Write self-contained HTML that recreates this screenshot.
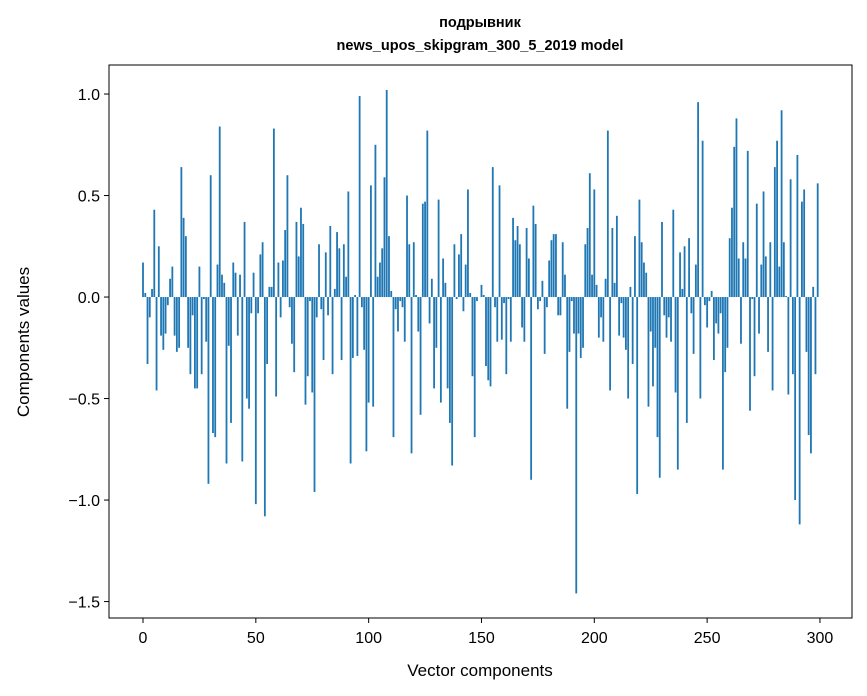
<!DOCTYPE html>
<html><head><meta charset="utf-8"><style>
body{margin:0;background:#fff;}
svg{display:block;font-family:"Liberation Sans","DejaVu Sans",sans-serif;}
</style></head><body>
<svg width="867" height="696" xmlns="http://www.w3.org/2000/svg">
<rect width="867" height="696" fill="#fff"/>
<text x="480" y="27" text-anchor="middle" font-size="14.5" font-weight="bold">подрывник</text>
<text x="480" y="50" text-anchor="middle" font-size="14.5" font-weight="bold">news_upos_skipgram_300_5_2019 model</text>
<g id="bars"></g>
<g id="axes"></g>
<rect x="109" y="65" width="743" height="553" fill="none" stroke="#000" stroke-width="1"/>
<text x="480" y="676" text-anchor="middle" font-size="17">Vector components</text>
<text transform="translate(29,342) rotate(-90)" text-anchor="middle" font-size="17">Components values</text>
</svg>
<script>
const values = [
0.17,0.02,-0.33,-0.1,0.04,0.43,-0.46,0.25,-0.19,-0.26,
-0.18,-0.04,0.09,0.15,-0.19,-0.27,-0.25,0.64,0.39,0.30,
-0.25,-0.38,-0.09,-0.45,-0.45,0.15,-0.38,-0.01,-0.22,-0.92,
0.6,-0.67,-0.69,0.16,0.84,0.11,0.07,-0.82,-0.24,-0.62,
0.17,0.12,-0.19,0.11,-0.81,0.37,-0.5,-0.55,-0.08,0.12,
-1.02,-0.08,0.21,0.27,-1.08,-0.33,0.05,0.05,0.83,-0.49,
0.17,-0.1,0.18,0.33,0.6,-0.05,-0.23,-0.37,0.37,0.2,
0.44,0.36,-0.53,-0.39,-0.02,-0.47,-0.96,-0.1,0.26,-0.06,
-0.31,0.22,-0.09,0.35,-0.38,0.04,0.32,0.24,-0.31,0.26,
0.1,0.52,-0.82,-0.3,0.01,-0.29,0.99,-0.05,-0.26,-0.76,
-0.52,0.55,-0.54,0.75,0.1,0.17,0.24,0.59,1.02,0.3,
0.03,-0.69,-0.06,-0.17,-0.02,-0.05,-0.22,0.5,0.26,-0.77,
0.27,0.01,-0.17,-0.58,0.46,0.47,0.82,-0.13,0.09,-0.45,
-0.25,0.48,-0.52,0.19,0.07,-0.45,-0.62,-0.83,0.26,-0.01,
0.21,0.31,-0.07,0.16,0.53,0.02,-0.39,-0.69,-0.02,0.0,
0.06,0.01,-0.34,-0.41,-0.44,0.64,-0.05,-0.22,0.55,-0.21,
-0.03,-0.38,-0.01,-0.22,0.39,0.28,0.35,0.26,-0.15,-0.22,
0.34,0.19,-0.9,0.45,0.36,-0.06,-0.02,0.08,-0.28,-0.05,
0.18,0.28,0.31,0.31,-0.09,-0.09,0.27,0.11,-0.55,-0.27,
-0.02,-0.18,-1.46,-0.18,-0.3,-0.25,0.26,0.34,0.61,0.11,
0.53,0.06,-0.2,-0.1,-0.22,0.09,0.82,-0.46,0.34,0.07,
0.4,-0.19,-0.03,-0.2,-0.26,-0.5,0.05,-0.33,0.3,-0.97,
0.48,0.27,0.17,0.12,-0.54,-0.17,-0.44,-0.25,-0.69,-0.89,
0.37,-0.09,-0.2,-0.1,-0.22,0.43,-0.47,-0.85,0.22,0.04,
0.25,-0.62,0.29,-0.08,-0.28,0.16,0.96,-0.5,0.77,-0.04,
-0.15,-0.02,0.03,-0.31,-0.13,-0.18,-0.08,-0.85,-0.37,-0.25,
0.29,0.44,0.74,0.88,0.19,-0.23,0.27,0.19,0.72,-0.56,
-0.01,-0.39,0.46,-0.18,0.16,0.52,0.2,-0.27,0.27,-0.46,
0.64,0.77,0.15,0.92,0.27,0.005,-0.48,0.58,-0.38,-1.0,
0.7,-1.12,0.47,0.53,-0.27,-0.68,-0.77,0.05,-0.38,0.56
];
const xTicks = [0,50,100,150,200,250,300];
const yTicks = [-1.5,-1.0,-0.5,0.0,0.5,1.0];
const yTickLabels = ["\u22121.5","\u22121.0","\u22120.5","0.0","0.5","1.0"];

const NS="http://www.w3.org/2000/svg";
const X0=109,X1=852,Y0=65,Y1=618;
const xMin=-15.07,xMax=314.2,yMin=-1.581,yMax=1.143;
const xs=v=>X0+(v-xMin)/(xMax-xMin)*(X1-X0);
const ys=v=>Y1-(v-yMin)/(yMax-yMin)*(Y1-Y0);
const bars=document.getElementById('bars');
values.forEach((v,i)=>{
  const r=document.createElementNS(NS,'rect');
  const a=xs(i-0.4),b=xs(i+0.4);
  const top=ys(Math.max(v,0)),bot=ys(Math.min(v,0));
  r.setAttribute('x',a);r.setAttribute('width',b-a);
  r.setAttribute('y',top);r.setAttribute('height',Math.max(bot-top,0.01));
  r.setAttribute('fill','#1f77b4');
  
  
  bars.appendChild(r);
});
const axes=document.getElementById('axes');
xTicks.forEach(t=>{
  const x=xs(t);
  const l=document.createElementNS(NS,'line');
  l.setAttribute('x1',x);l.setAttribute('x2',x);l.setAttribute('y1',Y1);l.setAttribute('y2',Y1+5);
  l.setAttribute('stroke','#000');
  
  
  axes.appendChild(l);
  const tx=document.createElementNS(NS,'text');
  tx.setAttribute('x',x);tx.setAttribute('y',Y1+25);tx.setAttribute('text-anchor','middle');tx.setAttribute('font-size','16');
  tx.textContent=t;
  
  
  axes.appendChild(tx);
});
yTicks.forEach((t,i)=>{
  const y=ys(t);
  const l=document.createElementNS(NS,'line');
  l.setAttribute('x1',X0-5);l.setAttribute('x2',X0);l.setAttribute('y1',y);l.setAttribute('y2',y);
  l.setAttribute('stroke','#000');
  
  
  axes.appendChild(l);
  const tx=document.createElementNS(NS,'text');
  tx.setAttribute('x',X0-9);tx.setAttribute('y',y+6);tx.setAttribute('text-anchor','end');tx.setAttribute('font-size','16');
  tx.textContent=yTickLabels[i];
  
  
  axes.appendChild(tx);
});
</script>
</body></html>
